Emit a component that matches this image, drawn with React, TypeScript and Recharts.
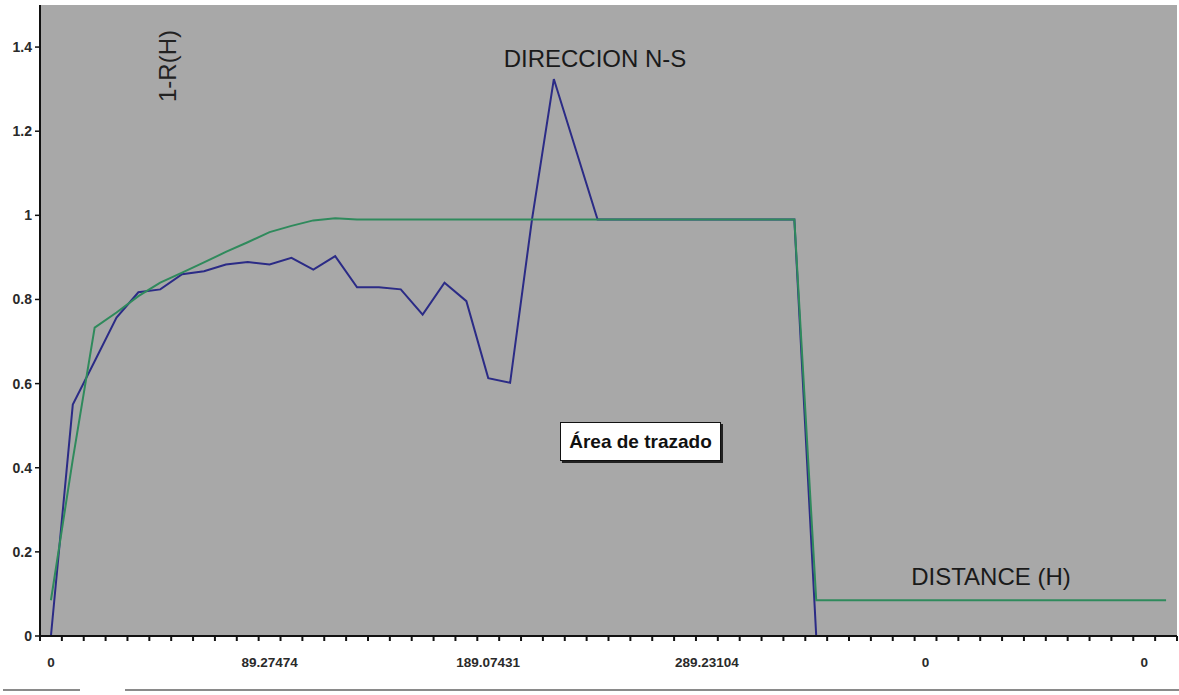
import { LineChart, Line, XAxis, YAxis, CartesianGrid } from "recharts"

// experimental variogram, direction N-S (one value per lag)
const nsValues = [
  0, 0.55, 0.653, 0.757, 0.817, 0.824, 0.86, 0.867, 0.883, 0.889,
  0.883, 0.899, 0.871, 0.903, 0.829, 0.829, 0.824, 0.764, 0.84, 0.796,
  0.613, 0.602, 0.99, 1.324, 1.157, 0.99, 0.99, 0.99, 0.99, 0.99,
  0.99, 0.99, 0.99, 0.99, 0.99, 0, 0, 0, 0, 0,
  0, 0, 0, 0, 0, 0, 0, 0, 0, 0,
  0, 0,
]

// fitted spherical model
const modelValues = [
  0.085, 0.42, 0.733, 0.769, 0.808, 0.84, 0.864, 0.888, 0.913, 0.936,
  0.96, 0.975, 0.988, 0.993, 0.99, 0.99, 0.99, 0.99, 0.99, 0.99,
  0.99, 0.99, 0.99, 0.99, 0.99, 0.99, 0.99, 0.99, 0.99, 0.99,
  0.99, 0.99, 0.99, 0.99, 0.99, 0.085, 0.085, 0.085, 0.085, 0.085,
  0.085, 0.085, 0.085, 0.085, 0.085, 0.085, 0.085, 0.085, 0.085, 0.085,
  0.085, 0.085,
]

// lag distances shown under the axis
const labelLags = [0, 10, 20, 30, 40, 50]
const labelDistances = ["0", "89.27474", "189.07431", "289.23104", "0", "0"]

const yTicks = [0, 0.2, 0.4, 0.6, 0.8, 1, 1.2, 1.4]

const rows = nsValues.map((v, i) => ({ lag: i, ns: v, model: modelValues[i] }))

// tick marks sit between categories, labels on the category itself
const boundaries = nsValues.map((_, i) => i - 0.5).concat(nsValues.length - 0.5)
const xTicks = [...boundaries, ...labelLags].sort((a, b) => a - b)

const FONT = "'Liberation Sans', Arial, sans-serif"

function LagTick({ x, y, payload }: any) {
  const v = payload.value as number
  const idx = labelLags.indexOf(v)
  if (idx >= 0) {
    return (
      <text
        x={x}
        y={y + 31}
        textAnchor="middle"
        fontFamily={FONT}
        fontSize={13.5}
        fontWeight="bold"
        fill="#2a2a2a"
      >
        {labelDistances[idx]}
      </text>
    )
  }
  return <line x1={x} x2={x} y1={y} y2={y + 5} stroke="#111" strokeWidth={2} />
}

export default function App() {
  return (
    <div
      style={{
        position: "absolute",
        left: 0,
        top: 0,
        width: 1179,
        height: 695,
        background: "#fff",
        overflow: "hidden",
        fontFamily: FONT,
      }}
    >
      <LineChart
        width={1179}
        height={695}
        data={rows}
        margin={{ top: 5, right: 2, bottom: 0, left: 0 }}
      >
        <CartesianGrid fill="#a8a8a8" stroke="none" horizontal={false} vertical={false} />
        <XAxis
          dataKey="lag"
          type="number"
          domain={[-0.5, nsValues.length - 0.5]}
          ticks={xTicks}
          interval={0}
          height={59}
          tickSize={0}
          tickMargin={0}
          tickLine={false}
          tick={<LagTick />}
          axisLine={{ stroke: "#111", strokeWidth: 2 }}
        />
        <YAxis
          type="number"
          domain={[0, 1.5]}
          ticks={yTicks}
          interval={0}
          width={40}
          tickSize={5}
          tickMargin={3}
          tickLine={{ stroke: "#111", strokeWidth: 1.5 }}
          axisLine={{ stroke: "#111", strokeWidth: 2 }}
          tick={{ fontFamily: FONT, fontSize: 14, fontWeight: "bold", fill: "#2a2a2a" }}
        />
        <Line
          type="linear"
          dataKey="ns"
          stroke="#2b2b86"
          strokeWidth={2}
          dot={false}
          isAnimationActive={false}
        />
        <Line
          type="linear"
          dataKey="model"
          stroke="#2f8a5c"
          strokeWidth={2}
          dot={false}
          isAnimationActive={false}
        />
      </LineChart>

      <div
        style={{
          position: "absolute",
          left: 168,
          top: 66,
          transform: "translate(-50%, -50%) rotate(-90deg)",
          fontSize: 24,
          color: "#222",
          whiteSpace: "nowrap",
        }}
      >
        1-R(H)
      </div>
      <div
        style={{
          position: "absolute",
          left: 595,
          top: 59,
          transform: "translate(-50%, -50%)",
          fontSize: 24,
          color: "#1a1a1a",
          whiteSpace: "nowrap",
        }}
      >
        DIRECCION N-S
      </div>
      <div
        style={{
          position: "absolute",
          left: 991,
          top: 577,
          transform: "translate(-50%, -50%)",
          fontSize: 24,
          color: "#1a1a1a",
          whiteSpace: "nowrap",
        }}
      >
        DISTANCE (H)
      </div>
      <div
        style={{
          position: "absolute",
          left: 560,
          top: 422,
          width: 161,
          height: 39,
          boxSizing: "border-box",
          background: "#fff",
          border: "1px solid #111",
          boxShadow: "2px 2px 0 #222",
          display: "flex",
          alignItems: "center",
          justifyContent: "center",
          fontSize: 19,
          fontWeight: "bold",
          color: "#111",
          whiteSpace: "nowrap",
        }}
      >
        Área de trazado
      </div>

      <div style={{ position: "absolute", left: 3, top: 689, width: 77, height: 2, background: "#8a8a8a" }} />
      <div style={{ position: "absolute", left: 125, top: 689, width: 1054, height: 2, background: "#8a8a8a" }} />
    </div>
  )
}
